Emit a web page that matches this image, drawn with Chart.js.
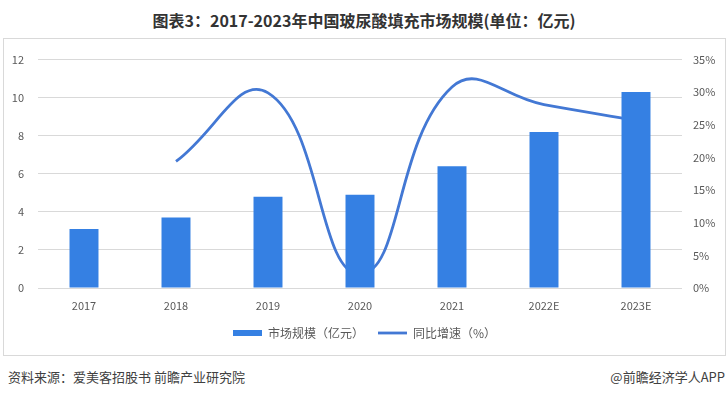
<!DOCTYPE html>
<html>
<head>
  <meta charset="UTF-8">
  <title>2017-2023年中国玻尿酸填充市场规模</title>
  <script src="https://cdn.jsdelivr.net/npm/chart.js"></script>
  <style>
    body { margin: 0; width: 728px; height: 396px; background: #fff; position: relative; overflow: hidden;
           font-family: "Noto Sans CJK SC", sans-serif; }
    #title { position: absolute; left: 0; top: 8px; width: 728px; text-align: center;
             font-size: 16px; font-weight: bold; color: #333; line-height: 24px; }
    #box { position: absolute; left: 3px; top: 38px; width: 721px; height: 316px; border: 1px solid #d9d9d9; }
    #source { position: absolute; left: 8px; top: 368px; font-size: 13px; color: #404040; line-height: 18px; }
    #app { position: absolute; right: 3px; top: 368px; font-size: 13px; color: #404040; line-height: 18px; }
  </style>
</head>
<body>

<div id="title">图表3：2017-2023年中国玻尿酸填充市场规模(单位：亿元)</div>
<div id="box">
  <canvas id="myChart" width="721" height="316"></canvas>
</div>
<div id="source">资料来源：爱美客招股书 前瞻产业研究院</div>
<div id="app">@前瞻经济学人APP</div>

<script>
  // 数据
  var categories = ['2017', '2018', '2019', '2020', '2021', '2022E', '2023E'];
  var marketSize = [3.1, 3.7, 4.8, 4.9, 6.4, 8.2, 10.3];      // 亿元
  var growthRate = [null, 19.4, 29.9, 2.1, 30.8, 28.1, 25.7];  // %
  var leftTicks = [0, 2, 4, 6, 8, 10, 12];
  var rightTicks = [0, 5, 10, 15, 20, 25, 30, 35];

  var tickFont = { family: '"Noto Sans CJK SC", sans-serif', size: 11 };
  var tickColor = '#595959';

  const ctx = document.getElementById('myChart');
  var ch = {
    type: 'bar',
    data: {
      labels: categories,
      datasets: [{
        type: 'bar',
        label: '市场规模（亿元）',
        data: marketSize,
        backgroundColor: '#3580e3',
        borderWidth: 0,
        barPercentage: 0.315,
        categoryPercentage: 1,
        yAxisID: 'y',
        order: 1
      }, {
        type: 'line',
        label: '同比增速（%）',
        data: growthRate,
        borderColor: '#4378d4',
        backgroundColor: '#4378d4',
        borderWidth: 2.8,
        pointRadius: 0,
        tension: 0.45,
        yAxisID: 'y1',
        order: 2
      }]
    },
    options: {
      responsive: false,
      animation: false,
      layout: { padding: { top: 15, bottom: 6, left: 0, right: 0 } },
      plugins: {
        tooltip: { enabled: false },
        legend: {
          position: 'bottom',
          labels: {
            color: '#595959',
            font: { family: '"Noto Sans CJK SC", sans-serif', size: 12 },
            usePointStyle: true,
            pointStyleWidth: 29,
            boxHeight: 6,
            padding: 14,
            generateLabels: function (chart) {
              var items = Chart.defaults.plugins.legend.labels.generateLabels(chart);
              items[0].pointStyle = 'rect';
              items[1].pointStyle = 'line';
              items[1].lineWidth = 2.8;
              return items;
            }
          }
        }
      },
      scales: {
        x: {
          grid: { display: false, drawTicks: false },
          border: { display: false },
          ticks: { color: tickColor, font: tickFont, padding: 11 },
          afterFit: function (s) { s.height = 25; }
        },
        y: {
          position: 'left',
          min: 0, max: 12,
          afterBuildTicks: function (s) { s.ticks = leftTicks.map(function (v) { return { value: v }; }); },
          grid: { color: '#d9d9d9', drawTicks: false },
          border: { display: false },
          ticks: { color: tickColor, font: tickFont, padding: 14 },
          afterFit: function (s) { s.width = 34; }
        },
        y1: {
          position: 'right',
          min: 0, max: 35,
          afterBuildTicks: function (s) { s.ticks = rightTicks.map(function (v) { return { value: v }; }); },
          grid: { display: false, drawTicks: false },
          border: { display: false },
          ticks: {
            color: tickColor, font: tickFont, padding: 11,
            callback: function (v) { return v + '%'; }
          },
          afterFit: function (s) { s.width = 43; }
        }
      }
    }
  };

  var chart = new Chart(ctx, ch);
</script>

</body>
</html>
